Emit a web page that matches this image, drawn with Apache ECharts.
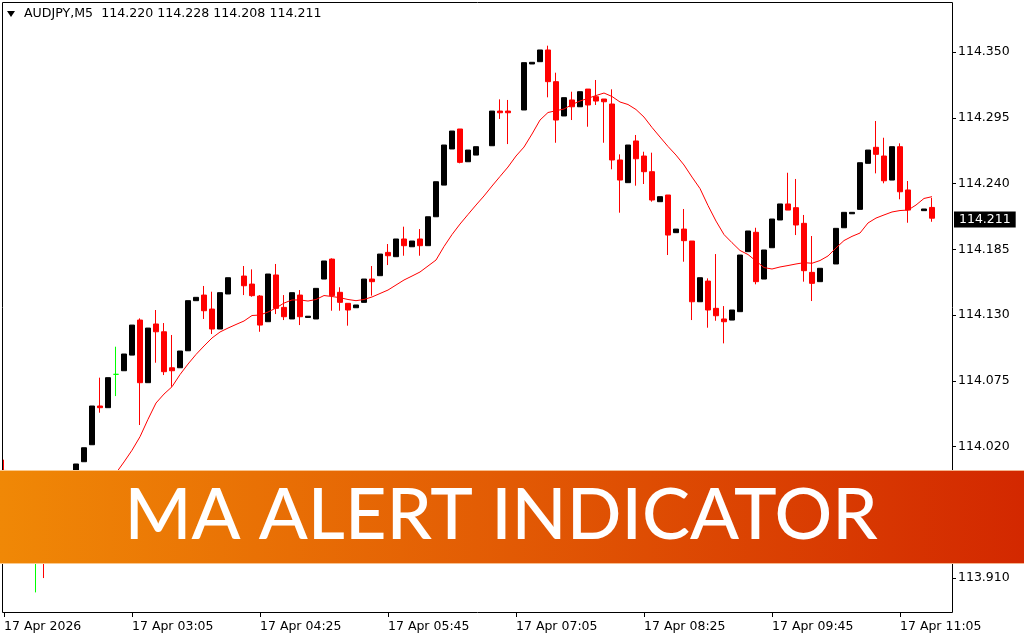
<!DOCTYPE html>
<html><head><meta charset="utf-8">
<script src="https://cdn.jsdelivr.net/npm/echarts@6/dist/echarts.min.js"></script>
<style>html,body{margin:0;padding:0;background:#fff}#c{width:1024px;height:640px}</style>
</head><body><div id="c"></div>
<script>
const symbolName = "AUDJPY,M5";
const bannerTitle = "MA ALERT INDICATOR";
const timeLabels = ["17 Apr 2026","17 Apr 03:05","17 Apr 04:25","17 Apr 05:45","17 Apr 07:05","17 Apr 08:25","17 Apr 09:45","17 Apr 11:05"];
const priceTicks = [113.910,113.965,114.020,114.075,114.130,114.185,114.240,114.295,114.350];

const opens = [114.000,113.985,113.960,113.945,113.935,113.940,113.925,113.950,113.970,113.990,
114.0073,114.0215,114.0539,114.0525,114.0804,114.0834,114.0965,114.1258,114.0734,114.1225,
114.1160,114.0859,114.0859,114.1001,114.1420,114.1467,114.1350,114.1183,114.1476,null,
114.1626,114.1559,114.1459,114.1244,114.1635,114.1364,114.1267,114.1467,114.1280,114.1267,
114.1601,114.1768,114.1490,114.1398,114.1361,114.1406,114.1601,114.1629,114.1824,114.1788,
114.1936,114.1871,114.1936,114.1880,114.2122,114.2387,114.2689,114.2856,114.2582,114.2638,
null,114.2716,114.3006,114.3006,null,114.3015,114.3400,114.3419,114.3517,114.3252,
114.2965,114.3099,114.3042,114.3190,114.3126,114.3107,114.3065,114.2597,114.2407,114.2756,
114.2630,114.2499,114.2248,114.2304,114.1989,114.2019,114.1919,114.1411,114.1584,114.1356,
114.1267,114.1258,114.1328,114.1830,114.1992,114.1601,114.1863,114.2095,114.2229,114.2198,
114.2067,114.1657,114.1579,null,114.1727,114.2030,114.2147,114.2184,114.2569,114.2703,
114.2630,114.2429,114.2708,114.2346,null,114.2173,114.220];
const highs = [114.009,113.992,113.970,113.955,113.955,113.952,113.950,113.970,113.990,114.0054,
114.0190,114.0539,114.0776,114.0776,114.1035,114.0974,114.1216,114.1272,114.1191,114.1342,
114.1233,114.1133,114.0999,114.1420,114.1448,114.1543,114.1495,114.1487,114.1612,null,
114.1710,114.1682,114.1467,114.1643,114.1727,114.1467,114.1487,114.1509,114.1290,114.1523,
114.1752,114.1774,114.1532,114.1398,114.1384,114.1601,114.1710,114.1810,114.1894,114.1936,
114.2039,114.1919,114.2019,114.2122,114.2415,114.2722,114.2839,114.2856,114.2680,114.2708,
null,114.3006,114.3104,114.3099,null,114.3411,114.3414,114.3517,114.3553,114.3327,
114.3118,114.3168,114.3168,114.3190,114.3266,114.3107,114.3188,114.2644,114.2722,114.2806,
114.2666,114.2658,114.2290,114.2304,114.2019,114.2187,114.1919,114.1612,114.1607,114.1810,
114.1375,114.1342,114.1802,114.2003,114.2030,114.1844,114.2103,114.2229,114.2490,114.2438,
114.2137,114.1961,114.1691,null,114.2025,114.2159,114.2159,114.2574,114.2680,114.2923,
114.2783,114.2708,114.2736,114.2421,null,114.2187,114.228];
const lows = [113.975,113.955,113.940,113.930,113.898,113.910,113.925,113.950,113.970,113.990,
114.0073,114.0215,114.0483,114.0525,114.0622,114.0834,114.0965,114.0380,114.0734,114.0901,
114.0798,114.0700,114.0859,114.1001,114.1420,114.1267,114.1141,114.1183,114.1476,null,
114.1467,114.1453,114.1160,114.1244,114.1308,114.1258,114.1267,114.1216,114.1280,114.1267,
114.1601,114.1336,114.1336,114.1211,114.1361,114.1406,114.1462,114.1629,114.1718,114.1788,
114.1796,114.1871,114.1796,114.1880,114.2122,114.2387,114.2689,114.2569,114.2582,114.2638,
null,114.2716,114.2940,114.2730,null,114.3015,114.3400,114.3419,114.3121,114.2741,
114.2965,114.2931,114.3042,114.2875,114.3057,114.2741,114.2519,114.2156,114.2407,114.2382,
114.2396,114.2248,114.2248,114.1802,114.1989,114.1746,114.1258,114.1411,114.1194,114.1252,
114.1063,114.1258,114.1328,114.1830,114.1557,114.1601,114.1863,114.2095,114.2178,114.1969,
114.1579,114.1417,114.1579,null,114.1727,114.2030,114.2147,114.2184,114.2569,114.2485,
114.2402,114.2429,114.2268,114.2072,null,114.2173,114.208];
const closes = [113.985,113.960,113.945,113.935,113.935,113.925,113.950,113.970,113.990,114.0054,
114.0190,114.0539,114.0525,114.0776,114.0804,114.0974,114.1216,114.0734,114.1191,114.1160,
114.0826,114.0834,114.0999,114.1420,114.1448,114.1336,114.1183,114.1487,114.1612,null,
114.1545,114.1462,114.1216,114.1643,114.1356,114.1286,114.1487,114.1286,114.1290,114.1523,
114.1752,114.1462,114.1406,114.1342,114.1384,114.1601,114.1579,114.1810,114.1796,114.1936,
114.1880,114.1919,114.1880,114.2122,114.2415,114.2722,114.2839,114.2577,114.2680,114.2708,
null,114.3006,114.2992,114.2992,null,114.3411,114.3414,114.3517,114.3252,114.2931,
114.3118,114.3042,114.3168,114.3057,114.3090,114.3084,114.2597,114.2429,114.2722,114.2607,
114.2499,114.2262,114.2290,114.1969,114.2019,114.1922,114.1411,114.1612,114.1342,114.1294,
114.1244,114.1342,114.1802,114.2003,114.1579,114.1844,114.2103,114.2229,114.2178,114.2053,
114.1671,114.1565,114.1691,null,114.2025,114.2159,114.2159,114.2574,114.2680,114.2644,
114.2423,114.2708,114.2331,114.2178,null,114.2187,114.211];
const maValues = [113.9401,113.9401,113.9401,113.9410,113.9418,113.9435,113.9460,113.9493,113.9535,113.9585,
113.9644,113.9711,113.9786,113.9878,113.9978,114.0071,114.0169,114.0282,114.0428,114.0564,
114.0639,114.0700,114.0802,114.0890,114.0970,114.1041,114.1108,114.1158,114.1191,114.1221,
114.1250,114.1296,114.1300,114.1325,114.1359,114.1400,114.1426,114.1426,114.1417,114.1430,
114.1463,114.1455,114.1445,114.1430,114.1420,114.1430,114.1451,114.1480,114.1509,114.1551,
114.1593,114.1626,114.1660,114.1710,114.1760,114.1873,114.1973,114.2061,114.2141,114.2220,
114.2296,114.2379,114.2459,114.2538,114.2630,114.2705,114.2814,114.2931,114.2994,114.3009,
114.3023,114.3061,114.3090,114.3113,114.3136,114.3157,114.3128,114.3082,114.3061,114.3019,
114.2956,114.2869,114.2789,114.2710,114.2638,114.2555,114.2454,114.2358,114.2216,114.2086,
114.1973,114.1905,114.1840,114.1806,114.1752,114.1697,114.1685,114.1702,114.1714,114.1727,
114.1738,114.1733,114.1756,114.1794,114.1861,114.1923,114.1958,114.1986,114.2070,114.2111,
114.2137,114.2162,114.2174,114.2178,114.2220,114.2275,114.2290];

const slots = 119;
const categories = Array.from({length: slots}, (_, i) => String(i));
const candleData = opens.map((o, i) => o == null ? ['-','-','-','-'] : [o, closes[i], lows[i], highs[i]]);
const last = opens.length - 1;
const legendText = symbolName + '  ' + [opens[last], highs[last], lows[last], closes[last]].map(v => v.toFixed(3)).join(' ');
const FONT = 'DejaVu Sans';

const chart = echarts.init(document.getElementById('c'), null, {renderer: 'canvas'});
chart.setOption({
  animation: false,
  backgroundColor: '#ffffff',
  grid: {left: -1, top: 3, width: 953, height: 609, show: false},
  xAxis: {
    type: 'category', data: categories, boundaryGap: true,
    axisLine: {show: false},
    axisTick: {show: true, interval: 15, alignWithLabel: true, length: 5, lineStyle: {color: '#000'}},
    axisLabel: {interval: 15, align: 'left', margin: 8, color: '#000', fontFamily: FONT, fontSize: 12.5,
      formatter: (v, i) => timeLabels[i / 16] || ''},
    splitLine: {show: false}
  },
  yAxis: {
    type: 'value', position: 'right', min: 113.8816, max: 114.3910, scale: true,
    axisLine: {show: false}, splitLine: {show: false},
    axisTick: {show: true, customValues: priceTicks, length: 4, lineStyle: {color: '#000'}},
    axisLabel: {customValues: priceTicks, formatter: v => v.toFixed(3), color: '#000', fontFamily: FONT, fontSize: 12.5, margin: 6}
  },
  series: [
    {
      type: 'candlestick', data: candleData, barWidth: 5, z: 2,
      itemStyle: {color: '#000000', color0: '#ff0000', borderColor: '#000000', borderColor0: '#ff0000', borderColorDoji: '#00ff00', borderWidth: 1},
      markLine: {
        silent: true, symbol: ['none', 'none'], animation: false,
        lineStyle: {color: 'rgba(0,0,0,0)', width: 1, type: 'solid'},
        data: [{yAxis: closes[last]}],
        label: {show: true, position: 'end', distance: 2, formatter: closes[last].toFixed(3),
          color: '#fff', backgroundColor: '#000', padding: [2, 5, 1, 5], fontFamily: FONT, fontSize: 12.5}
      }
    },
    {
      type: 'line', data: maValues, symbol: 'none', smooth: false, z: 3,
      lineStyle: {color: '#ff0000', width: 1}
    }
  ],
  graphic: [
    {type: 'rect', z: 50, silent: true, shape: {x: 2.5, y: 2.5, width: 950, height: 610},
      style: {fill: 'none', stroke: '#000', lineWidth: 1}},
    {type: 'polygon', z: 50, silent: true, shape: {points: [[7, 11], [15, 11], [11, 17]]}, style: {fill: '#000'}},
    {type: 'text', z: 50, silent: true, x: 24, y: 14,
      style: {text: legendText, fill: '#000', font: '12.6px "DejaVu Sans"', verticalAlign: 'middle'}},
    {type: 'rect', z: 100, silent: true, shape: {x: 0, y: 470, width: 1024, height: 94},
      style: {fill: {type: 'linear', x: 0, y: 0, x2: 1, y2: 0, colorStops: [
        {offset: 0, color: '#F08806'}, {offset: 0.5, color: '#E25A04'}, {offset: 1, color: '#D32800'}]}}},
    {type: 'rect', z: 101, silent: true, shape: {x: 0, y: 470, width: 1024, height: 1}, style: {fill: 'rgba(255,225,190,0.75)'}},
    {type: 'rect', z: 101, silent: true, shape: {x: 0, y: 563, width: 1024, height: 1}, style: {fill: 'rgba(255,225,190,0.75)'}},
    {type: 'text', z: 102, silent: true, x: 501, y: 516,
      style: {text: bannerTitle, fill: '#fff', font: '500 72px Lato', align: 'center', verticalAlign: 'middle'}}
  ]
});
</script>
</body></html>
